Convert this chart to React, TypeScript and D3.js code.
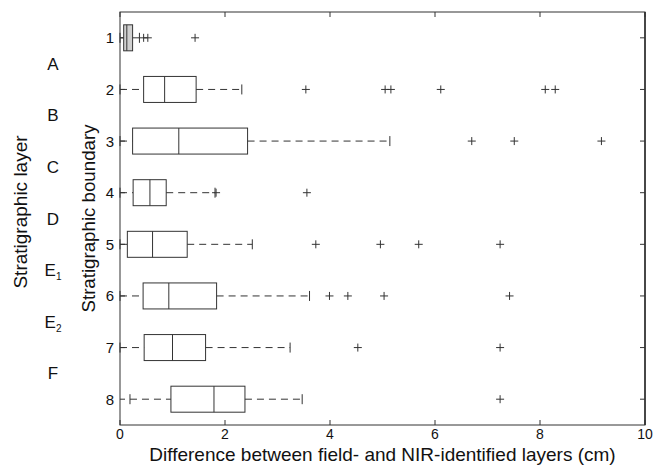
import React from "react";
import * as d3 from "d3";

const boundaries = [1, 2, 3, 4, 5, 6, 7, 8];
const lowWhisker = [0.0, 0.0, 0.0, 0.0, 0.0, 0.0, 0.0, 0.19];
const q1 = [0.07, 0.45, 0.24, 0.25, 0.14, 0.44, 0.46, 0.97];
const median = [0.13, 0.85, 1.12, 0.57, 0.62, 0.93, 1.0, 1.79];
const q3 = [0.24, 1.45, 2.43, 0.88, 1.28, 1.84, 1.63, 2.38];
const highWhisker = [0.37, 2.32, 5.14, 1.81, 2.52, 3.61, 3.24, 3.47];
const outliers = [
  [0.45, 0.53, 1.43],
  [3.54, 5.05, 5.16, 6.11, 8.1, 8.29],
  [6.7, 7.51, 9.17],
  [1.83, 3.56],
  [3.73, 4.96, 5.69, 7.24],
  [3.99, 4.34, 5.03, 7.42],
  [4.53, 7.24],
  [7.24],
];
const layers = ["A", "B", "C", "D", "E1", "E2", "F"];
const xTicks = [0, 2, 4, 6, 8, 10];

export default function App() {
  const W = 656, H = 470;
  const left = 120, right = 645, top = 12, bottom = 425;
  const x = d3.scaleLinear().domain([0, 10]).range([left, right]);
  const y = d3.scaleLinear().domain([0.5, 8.5]).range([top, bottom]);
  const stroke = "#333";
  const font = "'Liberation Sans', Arial, Helvetica, sans-serif";
  const boxH = 13;
  const capH = 5;
  const tickLen = 5;

  return (
    <svg width={W} height={H} style={{ position: "absolute", left: 0, top: 0, background: "#fff" }} fontFamily={font}>
      <rect x={0} y={0} width={W} height={H} fill="#fff" />
      {/* axes frame */}
      <rect x={left} y={top} width={right - left} height={bottom - top} fill="none" stroke={stroke} strokeWidth={1} />
      <line x1={right} x2={right} y1={top} y2={bottom} stroke={stroke} strokeWidth={1.6} />
      {/* x ticks */}
      {xTicks.map((t) => (
        <g key={"xt" + t}>
          <line x1={x(t)} x2={x(t)} y1={bottom} y2={bottom - tickLen} stroke={stroke} />
          <line x1={x(t)} x2={x(t)} y1={top} y2={top + tickLen} stroke={stroke} />
          <text x={x(t)} y={bottom + 14} fontSize={14} textAnchor="middle" fill="#111">{t}</text>
        </g>
      ))}
      {/* y ticks */}
      {boundaries.map((b) => (
        <g key={"yt" + b}>
          <line x1={left} x2={left + tickLen} y1={y(b)} y2={y(b)} stroke={stroke} />
          <line x1={right} x2={right - tickLen} y1={y(b)} y2={y(b)} stroke={stroke} />
          <text x={114} y={y(b) + 5.5} fontSize={15} textAnchor="end" fill="#111">{b}</text>
        </g>
      ))}
      {/* boxes */}
      {boundaries.map((b, i) => {
        const cy = y(b);
        return (
          <g key={"box" + b} stroke={stroke} strokeWidth={1} fill="none">
            <line x1={x(lowWhisker[i])} x2={x(q1[i])} y1={cy} y2={cy} strokeDasharray="7,5" />
            <line x1={x(q3[i])} x2={x(highWhisker[i])} y1={cy} y2={cy} strokeDasharray="7,5" />
            <line x1={x(lowWhisker[i])} x2={x(lowWhisker[i])} y1={cy - capH} y2={cy + capH} />
            <line x1={x(highWhisker[i])} x2={x(highWhisker[i])} y1={cy - capH} y2={cy + capH} />
            <rect x={x(q1[i])} y={cy - boxH} width={x(q3[i]) - x(q1[i])} height={2 * boxH} fill={i === 0 ? "#d0d0d0" : "none"} />
            <line x1={x(median[i])} x2={x(median[i])} y1={cy - boxH} y2={cy + boxH} />
            {outliers[i].map((o, j) => (
              <g key={j}>
                <line x1={x(o) - 4} x2={x(o) + 4} y1={cy} y2={cy} />
                <line x1={x(o)} x2={x(o)} y1={cy - 4} y2={cy + 4} />
              </g>
            ))}
          </g>
        );
      })}
      {/* layer labels */}
      {layers.map((l, i) => {
        const cy = (y(i + 1) + y(i + 2)) / 2 + 6;
        return (
          <text key={l} x={53} y={cy} fontSize={17} textAnchor="middle" fill="#111">
            {l[0]}
            {l.length > 1 && <tspan fontSize={10} dy={4}>{l.slice(1)}</tspan>}
          </text>
        );
      })}
      <text transform={`translate(95,${(top + bottom) / 2}) rotate(-90)`} fontSize={18.7} textAnchor="middle" fill="#111">Stratigraphic boundary</text>
      <text transform={`translate(27,212) rotate(-90)`} fontSize={19} textAnchor="middle" fill="#111">Stratigraphic layer</text>
      <text x={(left + right) / 2} y={461} fontSize={19} textAnchor="middle" fill="#111">Difference between field- and NIR-identified layers (cm)</text>
    </svg>
  );
}
